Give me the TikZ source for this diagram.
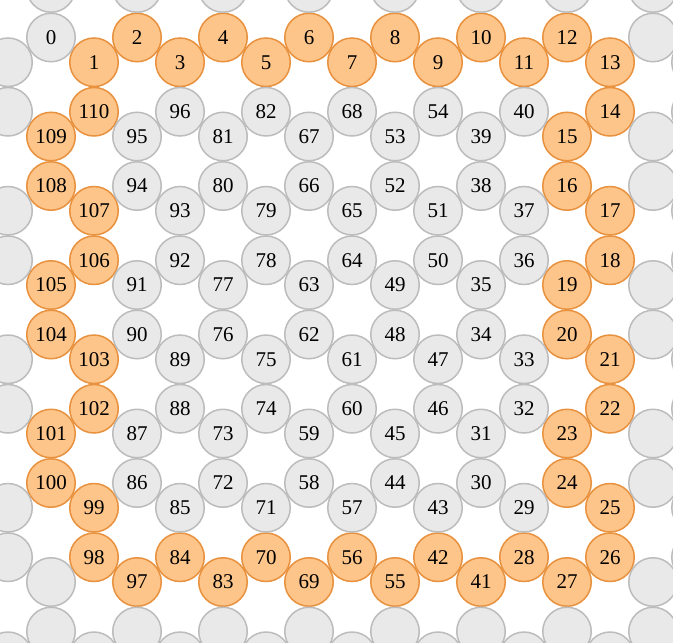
\documentclass[tikz,border=0pt]{standalone}
\usepackage{fontspec}
\setmainfont{Liberation Serif}
\definecolor{grayfill}{RGB}{233,233,233}
\definecolor{graydraw}{RGB}{188,188,188}
\definecolor{orfill}{RGB}{253,197,138}
\definecolor{ordraw}{RGB}{232,145,62}
\tikzset{
  vert/.style={circle, minimum size=48.5pt, inner sep=0pt, line width=1.5pt,
    font=\fontsize{21}{21}\selectfont, text=black},
  plain/.style={vert, fill=grayfill, draw=graydraw},
  hot/.style={vert, fill=orfill, draw=ordraw},
}
\begin{document}
\begin{tikzpicture}[x=1pt,y=-1pt]
\useasboundingbox (0,0) rectangle (673,643);
\clip (0,0) rectangle (673,643);
% orange ring
\foreach \vc/\vt/\lab in {
  0/4/109, 0/6/108, 0/10/105, 0/12/104, 0/16/101, 0/18/100,
  1/1/1, 1/3/110, 1/7/107, 1/9/106, 1/13/103, 1/15/102, 1/19/99, 1/21/98,
  2/0/2, 2/22/97, 3/1/3, 3/21/84, 4/0/4, 4/22/83, 5/1/5, 5/21/70,
  6/0/6, 6/22/69, 7/1/7, 7/21/56, 8/0/8, 8/22/55, 9/1/9, 9/21/42,
  10/0/10, 10/22/41, 11/1/11, 11/21/28,
  12/0/12, 12/4/15, 12/6/16, 12/10/19, 12/12/20, 12/16/23, 12/18/24, 12/22/27,
  13/1/13, 13/3/14, 13/7/17, 13/9/18, 13/13/21, 13/15/22, 13/19/25, 13/21/26}{
  \node[hot] (v\lab) at ({51+43*\vc},{37.5+24.75*\vt}) {\lab};
  \expandafter\gdef\csname used@\vc @\vt\endcsname{}
}
% labelled grey vertices
\foreach \vc/\vt/\lab in {
  0/0/0,
  2/4/95, 2/6/94, 2/10/91, 2/12/90, 2/16/87, 2/18/86,
  3/3/96, 3/7/93, 3/9/92, 3/13/89, 3/15/88, 3/19/85,
  4/4/81, 4/6/80, 4/10/77, 4/12/76, 4/16/73, 4/18/72,
  5/3/82, 5/7/79, 5/9/78, 5/13/75, 5/15/74, 5/19/71,
  6/4/67, 6/6/66, 6/10/63, 6/12/62, 6/16/59, 6/18/58,
  7/3/68, 7/7/65, 7/9/64, 7/13/61, 7/15/60, 7/19/57,
  8/4/53, 8/6/52, 8/10/49, 8/12/48, 8/16/45, 8/18/44,
  9/3/54, 9/7/51, 9/9/50, 9/13/47, 9/15/46, 9/19/43,
  10/4/39, 10/6/38, 10/10/35, 10/12/34, 10/16/31, 10/18/30,
  11/3/40, 11/7/37, 11/9/36, 11/13/33, 11/15/32, 11/19/29}{
  \node[plain] (v\lab) at ({51+43*\vc},{37.5+24.75*\vt}) {\lab};
  \expandafter\gdef\csname used@\vc @\vt\endcsname{}
}
% unlabelled grey vertices of the lattice
\foreach \vc in {-1,...,15}{
  \ifodd\vc\relax
    \gdef\tlist{1,3,7,9,13,15,19,21,25}%
  \else
    \gdef\tlist{-2,0,4,6,10,12,16,18,22,24}%
  \fi
  \foreach \vt in \tlist {
    \ifcsname used@\vc @\vt\endcsname\else
      \node[plain] (u\vc-\vt) at ({51+43*\vc},{37.5+24.75*\vt}) {};
    \fi
  }
}
\end{tikzpicture}
\end{document}
